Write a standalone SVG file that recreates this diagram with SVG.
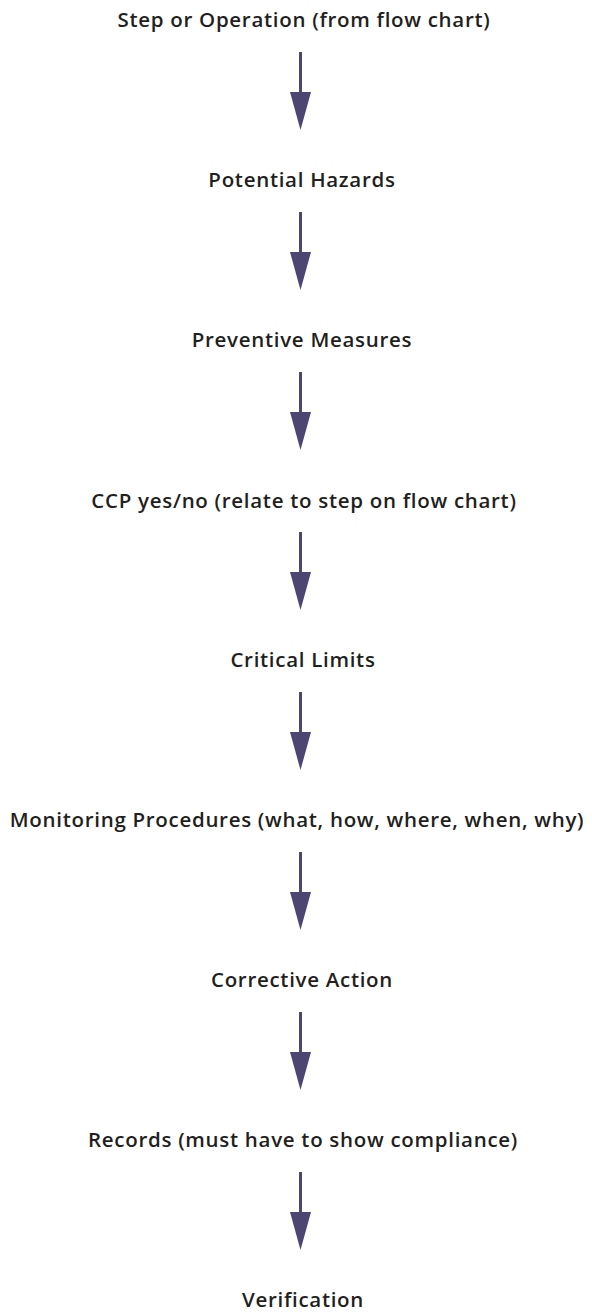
<svg xmlns="http://www.w3.org/2000/svg" width="592" height="1312" viewBox="0 0 592 1312">
<style>
text{font-family:"Open Sans","Liberation Sans",sans-serif;font-weight:600;font-size:20.5px;letter-spacing:0.7px;fill:#231f20;text-anchor:middle}
.ln{stroke:#4d4670;stroke-width:3}
.hd{fill:#4d4670}
</style>
<defs>
<g id="arrow"><line class="ln" x1="300.5" y1="0" x2="300.5" y2="41"/><polygon class="hd" points="290,40 311,40 300.5,78"/></g>
</defs>
<rect width="592" height="1312" fill="#fff"/>
<g id="connectors">
<use href="#arrow" y="52"/>
<use href="#arrow" y="212"/>
<use href="#arrow" y="372"/>
<use href="#arrow" y="532"/>
<use href="#arrow" y="692"/>
<use href="#arrow" y="852"/>
<use href="#arrow" y="1012"/>
<use href="#arrow" y="1172"/>
</g>
<g id="n1"><text x="304" y="27">Step or Operation (from flow chart)</text></g>
<g id="n2"><text x="302" y="187">Potential Hazards</text></g>
<g id="n3"><text x="302" y="347">Preventive Measures</text></g>
<g id="n4"><text x="304" y="508">CCP yes/no (relate to step on flow chart)</text></g>
<g id="n5"><text x="303" y="667">Critical Limits</text></g>
<g id="n6"><text x="297" y="827">Monitoring Procedures (what, how, where, when, why)</text></g>
<g id="n7"><text x="302" y="987">Corrective Action</text></g>
<g id="n8"><text x="303" y="1147">Records (must have to show compliance)</text></g>
<g id="n9"><text x="303" y="1307">Verification</text></g>
</svg>
